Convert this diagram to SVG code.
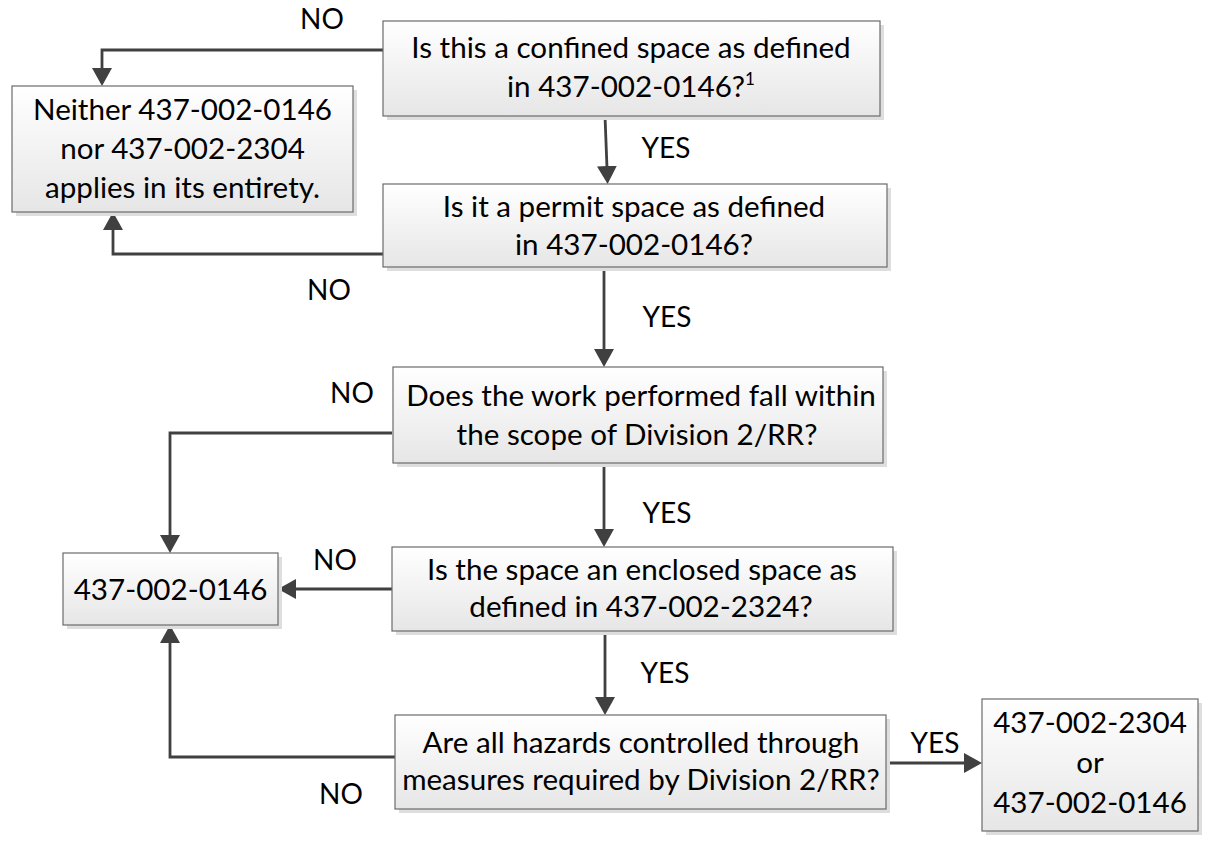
<svg xmlns="http://www.w3.org/2000/svg" width="1212" height="843" viewBox="0 0 1212 843">
<style>
.box{fill:url(#g);stroke:#6b6b6b;stroke-width:1.2}
.sh{fill:#dedede}
.t{font-family:Lato,"Liberation Sans",sans-serif;font-size:29.6px;fill:#000;text-anchor:middle}
.lbl{font-family:Lato,"Liberation Sans",sans-serif;font-size:28px;fill:#000;text-anchor:middle}
.c{fill:none;stroke:#404040;stroke-width:2.8;marker-end:url(#ar)}
</style>
<defs>
<linearGradient id="g" x1="0" y1="0" x2="0" y2="1">
<stop offset="0" stop-color="#ffffff"/>
<stop offset="1" stop-color="#e6e6e6"/>
</linearGradient>
<marker id="ar" markerUnits="userSpaceOnUse" viewBox="0 0 18 20" markerWidth="18" markerHeight="20" refX="2" refY="10" orient="auto">
<path d="M0,0 L18,10 L0,20 z" fill="#404040"/>
</marker>
</defs>
<rect width="1212" height="843" fill="#fff"/>
<g id="connectors">
<path class="c" d="M383,50 H102 V70"/>
<path class="c" d="M605,116 L607,168"/>
<path class="c" d="M383,254 H113 V228"/>
<path class="c" d="M604,267 V351"/>
<path class="c" d="M392,433 H170 V537"/>
<path class="c" d="M604,463 V531"/>
<path class="c" d="M392,589 H294"/>
<path class="c" d="M605,631 V699"/>
<path class="c" d="M395,757 H170 V641"/>
<path class="c" d="M886,763 H966"/>
</g>
<g id="labels">
<text class="lbl" x="322" y="29">NO</text>
<text class="lbl" x="666" y="158">YES</text>
<text class="lbl" x="329" y="300">NO</text>
<text class="lbl" x="667" y="327">YES</text>
<text class="lbl" x="352" y="403">NO</text>
<text class="lbl" x="667" y="523">YES</text>
<text class="lbl" x="335" y="570">NO</text>
<text class="lbl" x="665" y="683">YES</text>
<text class="lbl" x="935" y="753">YES</text>
<text class="lbl" x="341" y="804">NO</text>
</g>
<g id="n1">
<rect class="sh" x="387" y="25" width="497" height="95"/>
<rect class="box" x="383" y="21" width="497" height="95"/>
<text class="t" x="631" y="58">Is this a confined space as defined</text>
<text class="t" x="631" y="97">in 437-002-0146?<tspan font-size="17" dy="-12">1</tspan></text>
</g>
<g id="n2">
<rect class="sh" x="16" y="90" width="341" height="126"/>
<rect class="box" x="12" y="86" width="341" height="126"/>
<text class="t" x="182.5" y="120">Neither 437-002-0146</text>
<text class="t" x="182.5" y="159">nor 437-002-2304</text>
<text class="t" x="182.5" y="198">applies in its entirety.</text>
</g>
<g id="n3">
<rect class="sh" x="387" y="188" width="504" height="83"/>
<rect class="box" x="383" y="184" width="504" height="83"/>
<text class="t" x="634" y="217">Is it a permit space as defined</text>
<text class="t" x="634" y="255">in 437-002-0146?</text>
</g>
<g id="n4">
<rect class="sh" x="397" y="371" width="490" height="96"/>
<rect class="box" x="393" y="367" width="490" height="96"/>
<text class="t" x="641" y="406">Does the work performed fall within</text>
<text class="t" x="637" y="445">the scope of Division 2/RR?</text>
</g>
<g id="n5">
<rect class="sh" x="396" y="551" width="501" height="84"/>
<rect class="box" x="392" y="547" width="501" height="84"/>
<text class="t" x="642" y="580">Is the space an enclosed space as</text>
<text class="t" x="641" y="617">defined in 437-002-2324?</text>
</g>
<g id="n6">
<rect class="sh" x="399" y="719" width="491" height="94"/>
<rect class="box" x="395" y="715" width="491" height="94"/>
<text class="t" x="641" y="753">Are all hazards controlled through</text>
<text class="t" x="641" y="790">measures required by Division 2/RR?</text>
</g>
<g id="n7">
<rect class="sh" x="986" y="703" width="216" height="132"/>
<rect class="box" x="982" y="699" width="216" height="132"/>
<text class="t" x="1090" y="733">437-002-2304</text>
<text class="t" x="1090" y="773">or</text>
<text class="t" x="1090" y="813">437-002-0146</text>
</g>
<g id="n8">
<rect class="sh" x="67" y="557" width="215" height="72"/>
<rect class="box" x="63" y="553" width="215" height="72"/>
<text class="t" x="170.5" y="600">437-002-0146</text>
</g>
</svg>
